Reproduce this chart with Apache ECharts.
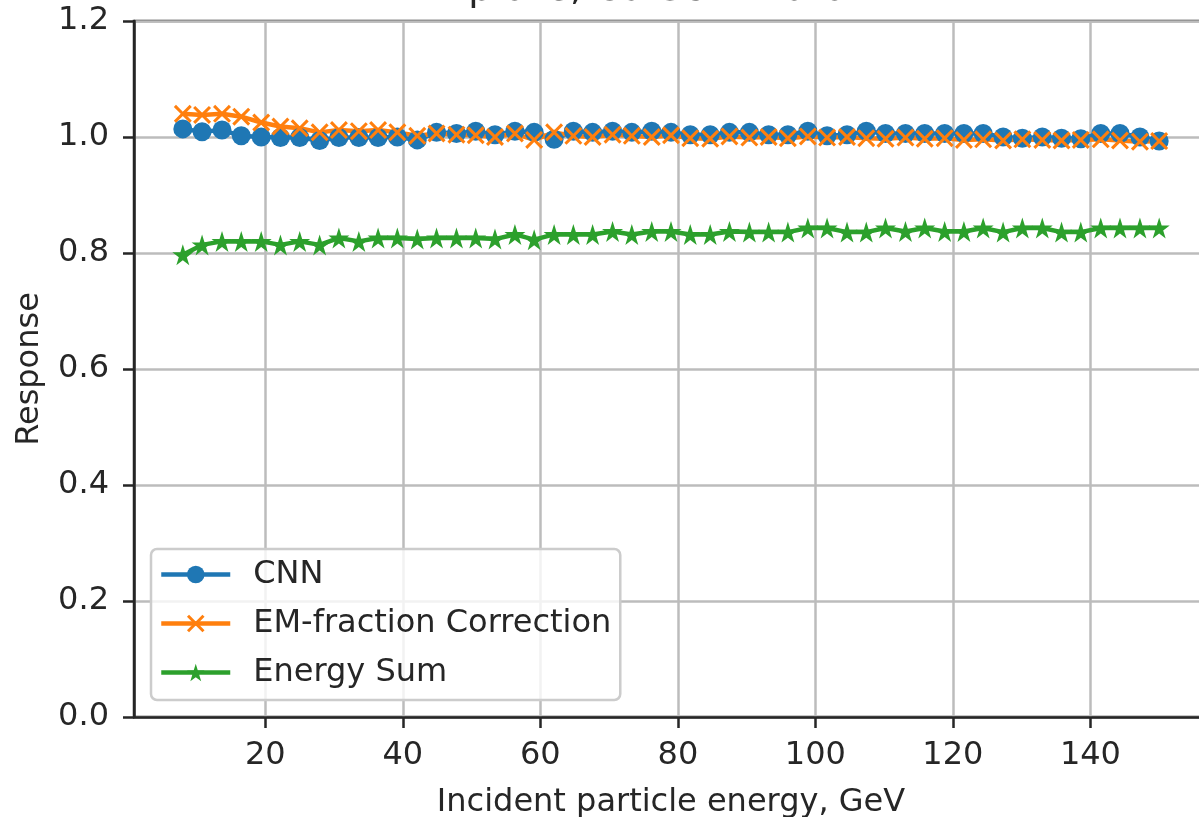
<!DOCTYPE html>
<html>
<head>
<meta charset="utf-8">
<script src="https://cdn.jsdelivr.net/npm/echarts@6/dist/echarts.min.js"></script>
<style>
  html, body { margin: 0; padding: 0; background: #ffffff; overflow: hidden; }
  #chart { width: 1199px; height: 817px; }
</style>
</head>
<body>
<div id="chart"></div>
<script>
// Incident particle energies (GeV)
const energies = [8.0, 10.8, 13.7, 16.5, 19.4, 22.2, 25.0, 27.9, 30.7, 33.6, 36.4, 39.2,
  42.1, 44.9, 47.8, 50.6, 53.4, 56.3, 59.1, 62.0, 64.8, 67.6, 70.5, 73.3, 76.2, 79.0,
  81.8, 84.7, 87.5, 90.4, 93.2, 96.0, 98.9, 101.7, 104.6, 107.4, 110.2, 113.1, 115.9,
  118.8, 121.6, 124.4, 127.3, 130.1, 133.0, 135.8, 138.6, 141.5, 144.3, 147.2, 150.0];

// Response of each reconstruction method
const cnnResponse = [1.014, 1.009, 1.012, 1.002, 1.000, 0.999, 0.999, 0.994, 0.999, 0.999,
  0.999, 1.000, 0.995, 1.008, 1.006, 1.010, 1.004, 1.010, 1.008, 0.996, 1.010, 1.008,
  1.010, 1.008, 1.010, 1.008, 1.004, 1.004, 1.008, 1.008, 1.004, 1.004, 1.010, 1.002,
  1.004, 1.010, 1.006, 1.006, 1.006, 1.006, 1.006, 1.006, 1.000, 0.998, 1.000, 0.998,
  0.997, 1.006, 1.006, 1.000, 0.993];

const emFractionResponse = [1.040, 1.038, 1.040, 1.035, 1.025, 1.018, 1.015, 1.008, 1.012,
  1.010, 1.012, 1.008, 1.002, 1.006, 1.004, 1.003, 1.000, 1.006, 0.995, 1.008, 1.002,
  1.000, 1.004, 1.002, 1.000, 1.003, 0.998, 0.997, 1.001, 0.999, 1.000, 0.998, 1.001,
  0.999, 1.000, 0.998, 0.997, 0.999, 0.997, 0.998, 0.995, 0.996, 0.994, 0.996, 0.995,
  0.994, 0.995, 0.996, 0.994, 0.992, 0.993];

const energySumResponse = [0.797, 0.814, 0.820, 0.820, 0.820, 0.814, 0.820, 0.814, 0.826,
  0.820, 0.826, 0.826, 0.824, 0.826, 0.826, 0.826, 0.824, 0.832, 0.823, 0.832, 0.832,
  0.832, 0.837, 0.832, 0.837, 0.837, 0.832, 0.832, 0.837, 0.836, 0.836, 0.836, 0.843,
  0.843, 0.836, 0.836, 0.843, 0.837, 0.843, 0.837, 0.837, 0.843, 0.836, 0.843, 0.843,
  0.836, 0.836, 0.843, 0.843, 0.843, 0.843];

const seriesNames = ['CNN', 'EM-fraction Correction', 'Energy Sum'];
const xTickValues = [20, 40, 60, 80, 100, 120, 140];
const titleText = 'pions, Cu-Scintillator';
const xAxisTitle = 'Incident particle energy, GeV';
const yAxisTitle = 'Response';

const FONT = 'DejaVu Sans';
const FONT_SIZE = 32;
const INK = '#262626';
const GRID = '#bcbcbc';

// Marker shapes: matplotlib-like "x" and "*"
const crossSymbol = 'path://M0,1.2 L1.2,0 L5,3.8 L8.8,0 L10,1.2 L6.2,5 L10,8.8 L8.8,10 L5,6.2 L1.2,10 L0,8.8 L3.8,5 Z';
const starSymbol = 'path://M50,0 L61.23,34.55 L97.55,34.55 L68.17,55.9 L79.39,90.45 L50,69.1 L20.61,90.45 L31.83,55.9 L2.45,34.55 L38.77,34.55 Z';

function pairs(ys) { return energies.map((e, i) => [e, ys[i]]); }

function lineSeries(name, ys, color, symbol, size) {
  return {
    name: name,
    type: 'line',
    data: pairs(ys),
    symbol: symbol,
    symbolSize: size,
    showAllSymbol: true,
    lineStyle: { width: 4.5, color: color },
    itemStyle: { color: color, borderWidth: 0 },
    emphasis: { disabled: true }
  };
}

const chart = echarts.init(document.getElementById('chart'), null, { renderer: 'canvas' });
chart.setOption({
  animation: false,
  backgroundColor: '#ffffff',
  textStyle: { fontFamily: FONT },
  grid: {
    left: 134, top: 21, bottom: 100, width: 1074,
    outerBoundsMode: 'none', containLabel: false,
    show: true, borderColor: INK, borderWidth: 2.5, backgroundColor: 'transparent'
  },
  graphic: [{
    type: 'text', x: 665, y: -10, z: 100,
    style: { text: titleText, font: '38px "DejaVu Sans"', fill: INK, align: 'center', verticalAlign: 'middle' }
  }],
  legend: {
    orient: 'vertical', left: 151, top: 549,
    itemWidth: 69, itemHeight: 22, itemGap: 14,
    padding: [8, 9, 10, 8],
    backgroundColor: 'rgba(255,255,255,0.8)',
    borderColor: '#cccccc', borderWidth: 2.5, borderRadius: 6,
    lineStyle: { width: 4.5 },
    textStyle: { fontSize: FONT_SIZE, fontFamily: FONT, color: INK, lineHeight: 35, padding: [0, 0, 0, 18] },
    data: seriesNames
  },
  xAxis: {
    type: 'value', min: 0.9, max: 157.1, splitNumber: 8,
    name: xAxisTitle, nameLocation: 'middle', nameGap: 70,
    nameTextStyle: { fontSize: FONT_SIZE, fontFamily: FONT, color: INK },
    axisLine: { lineStyle: { color: INK, width: 2.5 } },
    axisTick: { show: true, length: 11, customValues: xTickValues, lineStyle: { color: INK, width: 2.5 } },
    axisLabel: { customValues: xTickValues, fontSize: FONT_SIZE, fontFamily: FONT, color: INK, margin: 23 },
    splitLine: { show: true, lineStyle: { color: GRID, width: 2.5 } }
  },
  yAxis: {
    type: 'value', min: 0, max: 1.2, interval: 0.2,
    name: yAxisTitle, nameLocation: 'middle', nameGap: 88,
    nameTextStyle: { fontSize: FONT_SIZE, fontFamily: FONT, color: INK },
    axisLine: { show: true, lineStyle: { color: INK, width: 2.5 } },
    axisTick: { show: true, length: 11, lineStyle: { color: INK, width: 2.5 } },
    axisLabel: { fontSize: FONT_SIZE, fontFamily: FONT, color: INK, margin: 25, formatter: v => v.toFixed(1) },
    splitLine: { show: true, lineStyle: { color: GRID, width: 2.5 } }
  },
  series: [
    lineSeries(seriesNames[0], cnnResponse, '#1f77b4', 'circle', 19),
    lineSeries(seriesNames[1], emFractionResponse, '#ff7f0e', crossSymbol, 18),
    lineSeries(seriesNames[2], energySumResponse, '#2ca02c', starSymbol, 21)
  ]
});
</script>
</body>
</html>
